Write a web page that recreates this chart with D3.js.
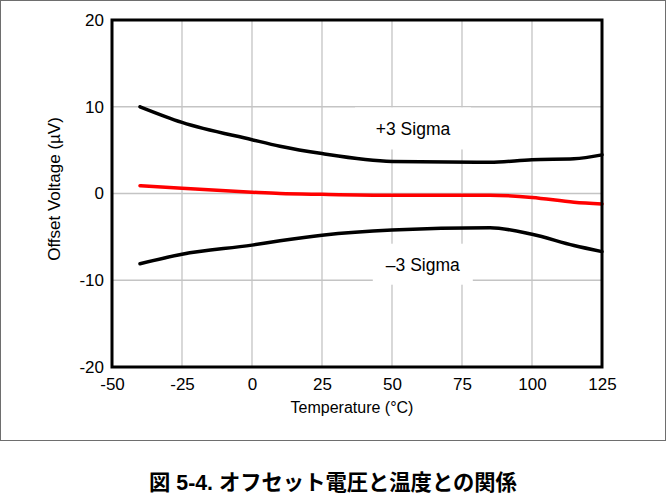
<!DOCTYPE html>
<html>
<head>
<meta charset="utf-8">
<script src="https://cdn.jsdelivr.net/npm/d3@7"></script>
<style>
  html, body { margin: 0; padding: 0; background: #fff; }
  svg { display: block; font-family: "Liberation Sans", Arial, "Noto Sans CJK JP", sans-serif; }
</style>
</head>
<body>
<svg id="chart" width="666" height="502"></svg>
<script>
// Offset voltage vs. temperature: typical and ±3 sigma limits
const temperatures = [-40, -25, 0, 10, 25, 50, 85, 100, 115, 125];
const plus3Sigma   = [10.0, 8.2, 6.2, 5.45, 4.6, 3.7, 3.6, 3.9, 4.0, 4.45];
const typical      = [0.9, 0.6, 0.15, 0.0, -0.1, -0.2, -0.2, -0.45, -1.0, -1.2];
const minus3Sigma  = [-8.1, -7.0, -5.95, -5.45, -4.8, -4.2, -3.95, -4.7, -6.0, -6.7];

const xTicks = [-50, -25, 0, 25, 50, 75, 100, 125];
const yTicks = [-20, -10, 0, 10, 20];

const xTitle = "Temperature (°C)";
const yTitle = "Offset Voltage (µV)";
const caption = "図 5-4. オフセット電圧と温度との関係";

const svg = d3.select("#chart");
const plot = { left: 112, right: 602, top: 20, bottom: 367 };

const x = d3.scaleLinear().domain([-50, 125]).range([plot.left, plot.right]);
const y = d3.scaleLinear().domain([-20, 20]).range([plot.bottom, plot.top]);

// outer frame around the figure body
svg.append("rect")
  .attr("x", 0.5).attr("y", 0.5)
  .attr("width", 665).attr("height", 440)
  .attr("fill", "none").attr("stroke", "#6e6e6e").attr("stroke-width", 1);

// grid
const grid = svg.append("g").attr("stroke", "#c4c4c4").attr("stroke-width", 1.3);
grid.selectAll(".gx").data(xTicks.slice(1, -1)).join("line")
  .attr("x1", d => x(d)).attr("x2", d => x(d))
  .attr("y1", plot.top).attr("y2", plot.bottom);
grid.selectAll(".gy").data(yTicks.slice(1, -1)).join("line")
  .attr("x1", plot.left).attr("x2", plot.right)
  .attr("y1", d => y(d)).attr("y2", d => y(d));

// series
const line = d3.line().x(d => x(d[0])).y(d => y(d[1])).curve(d3.curveMonotoneX);
const series = [
  { values: plus3Sigma, color: "#000" },
  { values: minus3Sigma, color: "#000" },
  { values: typical, color: "#ff0000" }
];
svg.append("g").selectAll("path").data(series).join("path")
  .attr("d", s => line(temperatures.map((t, i) => [t, s.values[i]])))
  .attr("fill", "none")
  .attr("stroke", s => s.color)
  .attr("stroke-width", 3.5)
  .attr("stroke-linejoin", "round")
  .attr("stroke-linecap", "round");

// in-plot labels on white boxes (position in data units, box size in px)
const labels = [
  { text: "+3 Sigma", tx: 57.5, ty: 7.5, w: 116, h: 42 },
  { text: "–3 Sigma", tx: 61, ty: -8.15, w: 100, h: 41 }
];
const lg = svg.append("g");
labels.forEach(l => {
  lg.append("rect")
    .attr("x", x(l.tx) - l.w / 2).attr("y", y(l.ty) - l.h / 2)
    .attr("width", l.w).attr("height", l.h).attr("fill", "#fff");
  lg.append("text")
    .attr("x", x(l.tx)).attr("y", y(l.ty))
    .attr("dy", "0.36em")
    .attr("text-anchor", "middle")
    .attr("font-size", 17.5)
    .attr("fill", "#000")
    .text(l.text);
});

// plot frame
svg.append("rect")
  .attr("x", plot.left).attr("y", plot.top)
  .attr("width", plot.right - plot.left).attr("height", plot.bottom - plot.top)
  .attr("fill", "none").attr("stroke", "#000").attr("stroke-width", 3);

// axes
const fmt = d => String(d);
const xAxis = d3.axisBottom(x).tickValues(xTicks).tickSize(0).tickPadding(11).tickFormat(fmt);
const yAxis = d3.axisLeft(y).tickValues(yTicks).tickSize(0).tickPadding(8).tickFormat(fmt);
const gx = svg.append("g").attr("transform", `translate(0,${plot.bottom})`).call(xAxis);
const gy = svg.append("g").attr("transform", `translate(${plot.left},0)`).call(yAxis);
[gx, gy].forEach(g => {
  g.select(".domain").remove();
  g.selectAll("text").attr("font-size", 17).attr("fill", "#000")
    .attr("font-family", "'Liberation Sans', Arial, sans-serif");
});

// axis titles
svg.append("text")
  .attr("x", 352).attr("y", 413)
  .attr("text-anchor", "middle").attr("font-size", 16).text(xTitle);
svg.append("text")
  .attr("transform", `translate(60,189) rotate(-90)`)
  .attr("text-anchor", "middle").attr("font-size", 17).text(yTitle);

// figure caption
svg.append("text")
  .attr("x", 333).attr("y", 490)
  .attr("text-anchor", "middle")
  .attr("font-size", 21.3).attr("font-weight", "bold")
  .attr("font-family", "'Liberation Sans', Arial, 'Noto Sans CJK JP', sans-serif")
  .text(caption);
</script>
</body>
</html>
